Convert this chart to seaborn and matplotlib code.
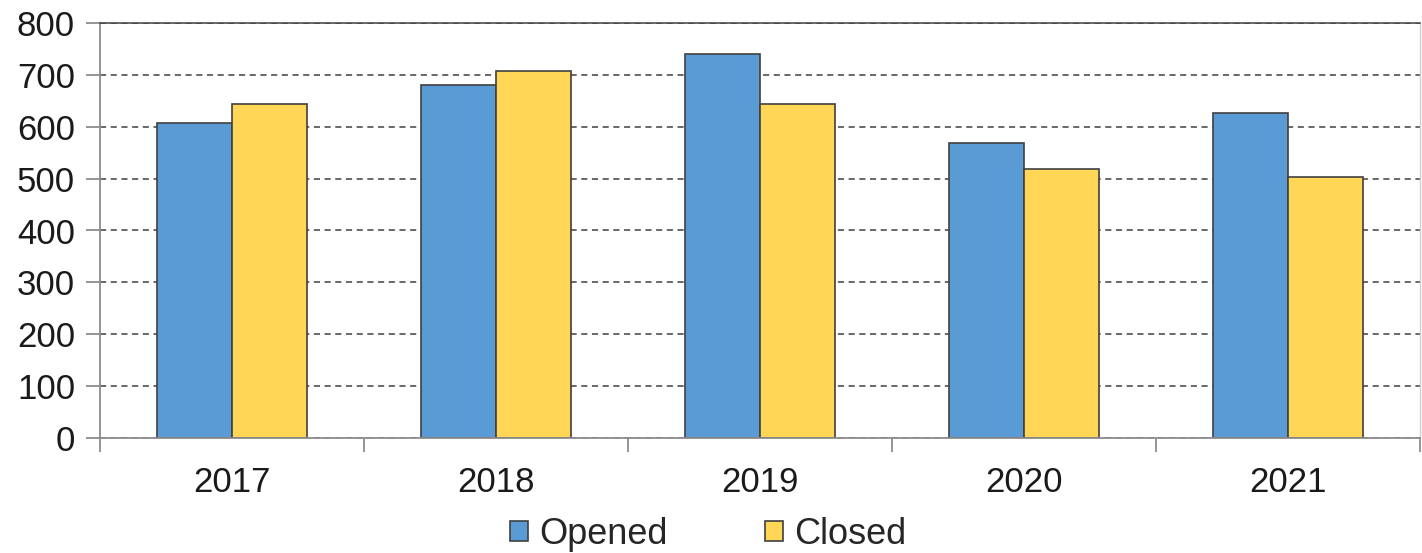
import numpy as np
import pandas as pd
import matplotlib.pyplot as plt
import seaborn as sns
from matplotlib.ticker import FixedLocator

# ---- data ----
years = ['2017', '2018', '2019', '2020', '2021']
opened = [607, 681, 740, 568, 626]
closed = [644, 708, 644, 518, 503]

df = pd.DataFrame({
    'year': years * 2,
    'count': opened + closed,
    'status': ['Opened'] * len(years) + ['Closed'] * len(years),
})

# ---- style ----
sns.set_theme(style="white")
plt.rcParams['font.family'] = ['Liberation Sans', 'DejaVu Sans']

palette = {'Opened': '#5B9BD5', 'Closed': '#FFD655'}

fig = plt.figure(figsize=(14.22, 5.53), dpi=100)
ax = fig.add_axes([100 / 1422, 1 - 438 / 553, 1320 / 1422, 415 / 553])

sns.barplot(
    data=df, x='year', y='count', hue='status',
    hue_order=['Opened', 'Closed'], palette=palette,
    width=0.57, gap=0, edgecolor='#404040', linewidth=1.2,
    saturation=1, ax=ax, legend=True,
)

ax.set_xlim(-0.5, 4.5)
ax.set_ylim(0, 800)
ax.set_yticks(range(0, 801, 100))
ax.set_xlabel('')
ax.set_ylabel('')

# dashed horizontal gridlines
ax.yaxis.grid(True, linestyle=(0, (4, 3)), color='#404040', linewidth=1.1)
ax.set_axisbelow(True)

# spines
for side in ['left', 'bottom']:
    ax.spines[side].set_color('#8c8c8c')
    ax.spines[side].set_linewidth(1.3)
ax.spines['top'].set_color('#404040')
ax.spines['top'].set_linewidth(1.1)
ax.spines['right'].set_color('#d0d0d0')
ax.spines['right'].set_linewidth(1.0)

# ticks: labels at centers, marks at category boundaries
ax.tick_params(axis='x', which='major', length=0, labelsize=25, pad=20, colors='#1a1a1a')
ax.xaxis.set_minor_locator(FixedLocator(np.arange(-0.5, 5, 1)))
ax.tick_params(axis='x', which='minor', length=10, width=1.3, color='#8c8c8c', direction='out', bottom=True)
ax.tick_params(axis='y', length=10, width=1.3, color='#8c8c8c', direction='out', labelsize=25, pad=8, left=True)
for lab in ax.get_yticklabels():
    lab.set_color('#1a1a1a')

# legend below
ax.legend(
    loc='center', bbox_to_anchor=(0.4606, -0.232), ncol=2, frameon=False,
    fontsize=26, handlelength=0.5, handleheight=0.5, handletextpad=0.3,
    columnspacing=2.7, title=None,
)

plt.savefig('out.png', dpi=100)
